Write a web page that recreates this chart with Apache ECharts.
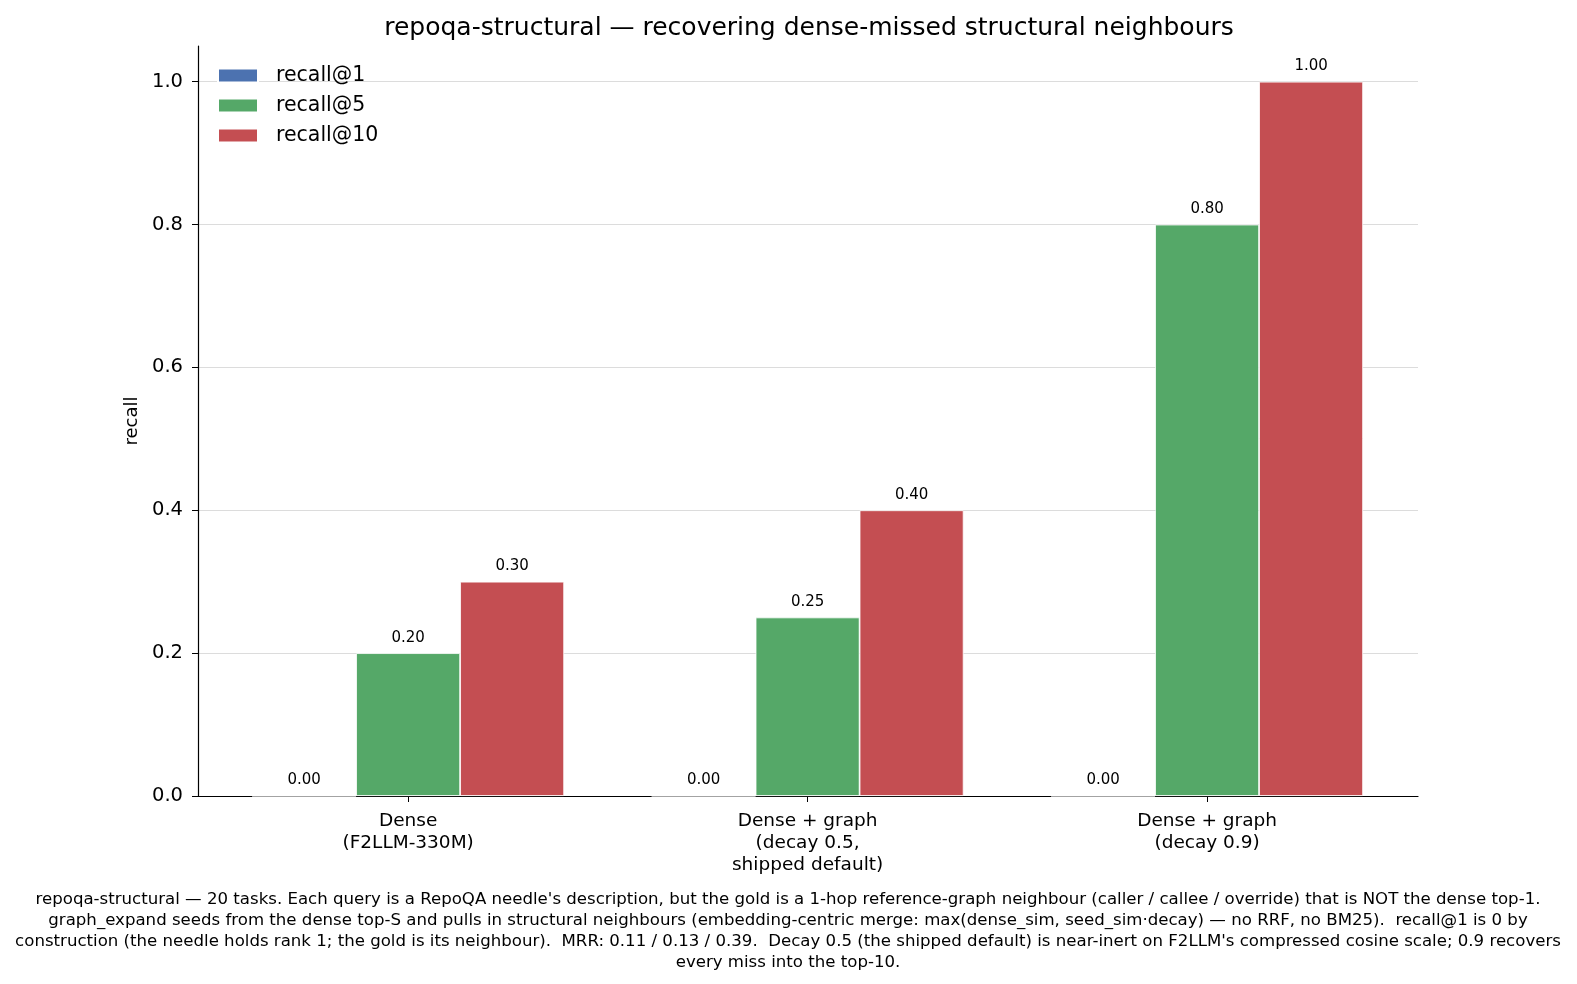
<!DOCTYPE html>
<html>
<head>
<meta charset="utf-8">
<script src="https://cdn.jsdelivr.net/npm/echarts@6/dist/echarts.min.js"></script>
<style>
  html, body { margin: 0; padding: 0; background: #fff; }
  #chart { width: 1577px; height: 984px; }
</style>
</head>
<body>
<div id="chart"></div>
<script>
// data
const categories = ['Dense\n(F2LLM-330M)', 'Dense + graph\n(decay 0.5,\nshipped default)', 'Dense + graph\n(decay 0.9)'];
const recall1 = [0.0, 0.0, 0.0];
const recall5 = [0.20, 0.25, 0.80];
const recall10 = [0.30, 0.40, 1.00];
const yTicks = [0, 0.2, 0.4, 0.6, 0.8, 1.0];

const caption = "repoqa-structural — 20 tasks. Each query is a RepoQA needle's description, but the gold is a 1-hop reference-graph neighbour (caller / callee / override) that is NOT the dense top-1.\n" +
  "graph_expand seeds from the dense top-S and pulls in structural neighbours (embedding-centric merge: max(dense_sim, seed_sim·decay) — no RRF, no BM25).  recall@1 is 0 by\n" +
  "construction (the needle holds rank 1; the gold is its neighbour).  MRR: 0.11 / 0.13 / 0.39.  Decay 0.5 (the shipped default) is near-inert on F2LLM's compressed cosine scale; 0.9 recovers\n" +
  "every miss into the top-10.";

const font = 'DejaVu Sans';
const catIdx = categories.map((c, i) => i);
const chart = echarts.init(document.getElementById('chart'));

function barSeries(name, values, color) {
  return {
    name: name,
    type: 'bar',
    data: values.map((v, i) => [i, v]),
    barWidth: 104,
    barGap: '0%',
    itemStyle: { color: color, borderColor: '#fff', borderWidth: 0.8 },
    label: {
      show: true,
      position: 'top',
      distance: 8,
      formatter: p => p.value[1].toFixed(2),
      fontFamily: font,
      fontSize: 15,
      color: '#000'
    }
  };
}

chart.setOption({
  animation: false,
  textStyle: { fontFamily: font },
  title: [{
    text: 'repoqa-structural — recovering dense-missed structural neighbours',
    left: 804,
    top: 11,
    textAlign: 'center',
    textStyle: { fontFamily: font, fontSize: 25, fontWeight: 'normal', color: '#000' }
  }, {
    text: caption,
    left: 783,
    top: 884,
    textAlign: 'center',
    textStyle: { fontFamily: font, fontSize: 16.6, fontWeight: 'normal', color: '#000', lineHeight: 21 }
  }],
  legend: {
    left: 212,
    top: 60,
    orient: 'vertical',
    itemWidth: 40,
    itemHeight: 14,
    itemGap: 9,
    icon: 'rect',
    textStyle: { fontFamily: font, fontSize: 20.5, color: '#000', padding: [0, 0, 0, 13] },
    data: ['recall@1', 'recall@5', 'recall@10']
  },
  grid: { left: 198, right: 159, top: 46, bottom: 188 },
  xAxis: {
    type: 'value',
    min: -0.526,
    max: 2.528,
    splitLine: { show: false },
    axisLine: { show: true, onZero: false, lineStyle: { color: '#000', width: 1.2 } },
    axisTick: { show: true, length: 6, customValues: catIdx, lineStyle: { color: '#000' } },
    axisLabel: {
      fontFamily: font, fontSize: 18.5, color: '#000', lineHeight: 22, margin: 14,
      customValues: catIdx,
      formatter: v => categories[Math.round(v)] || ''
    }
  },
  yAxis: {
    type: 'value',
    min: 0,
    max: 1.05,
    name: 'recall',
    nameLocation: 'middle',
    nameGap: 52,
    nameTextStyle: { fontFamily: font, fontSize: 18, color: '#000' },
    axisLine: { show: true, onZero: false, lineStyle: { color: '#000', width: 1.2 } },
    axisTick: { show: true, length: 6, customValues: yTicks, lineStyle: { color: '#000' } },
    axisLabel: {
      fontFamily: font, fontSize: 19.5, color: '#000', margin: 15,
      customValues: yTicks,
      formatter: v => v.toFixed(1)
    },
    splitLine: { show: true, lineStyle: { color: '#dcdcdc', width: 1 } }
  },
  series: [
    barSeries('recall@1', recall1, '#4C72B0'),
    barSeries('recall@5', recall5, '#55A868'),
    barSeries('recall@10', recall10, '#C44E52')
  ]
});
</script>
</body>
</html>
